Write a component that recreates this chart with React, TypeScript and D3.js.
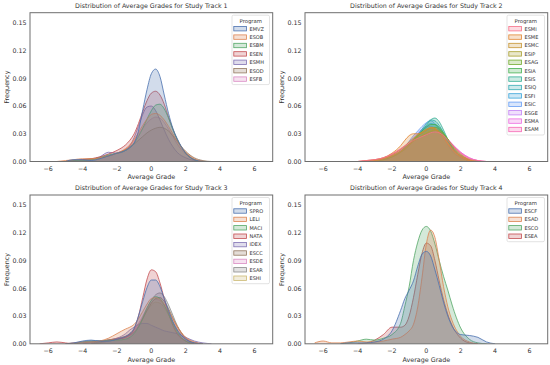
import React from 'react';
import * as d3 from 'd3';

// grade grid the densities were read on
const grades = [-6.5, -6, -5.5, -5, -4.5, -4, -3.5, -3, -2.5, -2, -1.5, -1.25, -1, -0.75, -0.5, -0.25, 0, 0.25, 0.5, 0.75, 1, 1.25, 1.5, 2, 2.5, 3, 3.5, 4, 4.5];
const _ = null;

const track1Programs = ['EMVZ', 'ESOB', 'ESBM', 'ESEN', 'ESMH', 'ESOD', 'ESFB'];
const track1Density = [
  [_, _, _, 0.000, 0.002, 0.002, 0.001, 0.003, 0.006, 0.009, 0.012, 0.015, 0.020, 0.033, 0.056, 0.078, 0.095, 0.100, 0.092, 0.072, 0.052, 0.036, 0.025, 0.009, 0.002, 0.000, _, _, _],
  [_, _, 0.000, 0.001, 0.002, 0.003, 0.003, 0.004, 0.006, 0.009, 0.014, 0.018, 0.024, 0.031, 0.039, 0.046, 0.051, 0.052, 0.050, 0.045, 0.038, 0.030, 0.022, 0.010, 0.003, 0.000, _, _, _],
  [_, _, _, 0.000, 0.001, 0.001, 0.002, 0.004, 0.007, 0.009, 0.012, 0.015, 0.020, 0.027, 0.036, 0.046, 0.055, 0.061, 0.062, 0.057, 0.047, 0.035, 0.024, 0.009, 0.002, 0.000, _, _, _],
  [_, _, _, 0.000, 0.001, 0.002, 0.003, 0.005, 0.008, 0.012, 0.018, 0.023, 0.030, 0.041, 0.054, 0.066, 0.074, 0.076, 0.072, 0.062, 0.048, 0.035, 0.024, 0.009, 0.002, 0.000, _, _, _],
  [_, _, _, 0.000, 0.001, 0.001, 0.002, 0.005, 0.010, 0.009, 0.012, 0.017, 0.026, 0.038, 0.051, 0.059, 0.060, 0.055, 0.045, 0.034, 0.024, 0.016, 0.010, 0.004, 0.001, 0.000, _, _, _],
  [_, _, _, 0.000, 0.001, 0.002, 0.003, 0.004, 0.006, 0.009, 0.013, 0.016, 0.019, 0.023, 0.027, 0.031, 0.034, 0.036, 0.037, 0.036, 0.033, 0.028, 0.022, 0.011, 0.004, 0.001, 0.000, _, _],
  [_, _, _, _, 0.000, 0.001, 0.002, 0.004, 0.006, 0.009, 0.013, 0.017, 0.022, 0.029, 0.036, 0.042, 0.046, 0.048, 0.047, 0.042, 0.035, 0.027, 0.019, 0.008, 0.002, 0.000, _, _, _],
];

const track2Programs = ['ESMI', 'ESME', 'ESMC', 'ESIP', 'ESAG', 'ESIA', 'ESIS', 'ESIQ', 'ESFI', 'ESIC', 'ESGE', 'ESMA', 'ESAM'];
const track2Density = [
  [_, _, _, _, _, 0.000, 0.001, 0.002, 0.004, 0.008, 0.014, 0.017, 0.020, 0.023, 0.025, 0.027, 0.029, 0.031, 0.032, 0.031, 0.028, 0.023, 0.018, 0.009, 0.003, 0.001, 0.000, _, _],
  [_, _, _, _, _, 0.000, 0.001, 0.002, 0.004, 0.009, 0.017, 0.023, 0.028, 0.030, 0.030, 0.031, 0.034, 0.037, 0.036, 0.032, 0.026, 0.019, 0.013, 0.005, 0.001, 0.000, _, _, _],
  [_, _, _, _, _, _, 0.000, 0.001, 0.003, 0.007, 0.013, 0.017, 0.021, 0.025, 0.029, 0.032, 0.035, 0.036, 0.035, 0.031, 0.026, 0.020, 0.014, 0.006, 0.002, 0.000, _, _, _],
  [_, _, _, _, _, _, 0.000, 0.001, 0.003, 0.006, 0.011, 0.014, 0.018, 0.022, 0.025, 0.028, 0.031, 0.033, 0.034, 0.033, 0.029, 0.024, 0.018, 0.008, 0.002, 0.000, _, _, _],
  [_, _, _, _, _, _, 0.000, 0.001, 0.003, 0.006, 0.011, 0.015, 0.019, 0.024, 0.028, 0.031, 0.034, 0.036, 0.037, 0.035, 0.030, 0.024, 0.017, 0.007, 0.002, 0.000, _, _, _],
  [_, _, _, _, _, _, 0.000, 0.001, 0.002, 0.005, 0.010, 0.014, 0.018, 0.023, 0.028, 0.033, 0.037, 0.040, 0.040, 0.037, 0.031, 0.024, 0.016, 0.006, 0.001, 0.000, _, _, _],
  [_, _, _, _, _, _, 0.000, 0.001, 0.002, 0.005, 0.010, 0.013, 0.017, 0.022, 0.027, 0.033, 0.039, 0.045, 0.047, 0.043, 0.034, 0.024, 0.015, 0.005, 0.001, 0.000, _, _, _],
  [_, _, _, _, _, _, 0.000, 0.001, 0.002, 0.005, 0.010, 0.014, 0.018, 0.023, 0.029, 0.035, 0.041, 0.045, 0.044, 0.039, 0.031, 0.022, 0.014, 0.005, 0.001, 0.000, _, _, _],
  [_, _, _, _, _, _, 0.000, 0.001, 0.003, 0.006, 0.011, 0.015, 0.019, 0.024, 0.029, 0.034, 0.038, 0.041, 0.040, 0.036, 0.029, 0.022, 0.015, 0.005, 0.001, 0.000, _, _, _],
  [_, _, _, _, _, _, 0.000, 0.001, 0.002, 0.005, 0.011, 0.016, 0.022, 0.028, 0.033, 0.038, 0.042, 0.044, 0.041, 0.034, 0.026, 0.018, 0.011, 0.004, 0.001, 0.000, _, _, _],
  [_, _, _, _, _, _, 0.000, 0.001, 0.003, 0.007, 0.012, 0.016, 0.021, 0.026, 0.031, 0.035, 0.038, 0.038, 0.036, 0.031, 0.025, 0.019, 0.013, 0.006, 0.002, 0.000, _, _, _],
  [_, _, _, _, _, _, 0.000, 0.001, 0.003, 0.006, 0.011, 0.015, 0.019, 0.023, 0.027, 0.030, 0.033, 0.035, 0.035, 0.033, 0.029, 0.024, 0.019, 0.010, 0.004, 0.001, 0.000, _, _],
  [_, _, _, _, _, 0.000, 0.001, 0.002, 0.004, 0.008, 0.013, 0.016, 0.019, 0.022, 0.025, 0.028, 0.030, 0.032, 0.033, 0.032, 0.029, 0.024, 0.019, 0.010, 0.004, 0.001, 0.000, _, _],
];

const track3Programs = ['SPRO', 'LELI', 'MACI', 'NATA', 'IDEX', 'ESCC', 'ESDE', 'ESAR', 'ESHI'];
const track3Density = [
  [_, _, _, 0.000, 0.001, 0.003, 0.004, 0.003, 0.003, 0.005, 0.008, 0.011, 0.017, 0.030, 0.046, 0.061, 0.069, 0.069, 0.062, 0.049, 0.036, 0.024, 0.015, 0.005, 0.001, 0.000, _, _, _],
  [_, _, _, 0.000, 0.001, 0.002, 0.002, 0.003, 0.006, 0.011, 0.016, 0.018, 0.021, 0.027, 0.035, 0.043, 0.049, 0.050, 0.048, 0.043, 0.036, 0.027, 0.019, 0.007, 0.002, 0.000, _, _, _],
  [_, _, _, _, 0.000, 0.002, 0.003, 0.003, 0.004, 0.004, 0.005, 0.007, 0.011, 0.018, 0.028, 0.039, 0.047, 0.051, 0.049, 0.042, 0.032, 0.022, 0.013, 0.003, 0.000, _, _, _, _],
  [0.000, 0.001, 0.002, 0.001, 0.000, 0.001, 0.002, 0.003, 0.004, 0.005, 0.007, 0.010, 0.016, 0.030, 0.050, 0.070, 0.080, 0.078, 0.066, 0.049, 0.033, 0.020, 0.011, 0.003, 0.000, _, _, _, _],
  [_, _, _, 0.000, 0.001, 0.002, 0.003, 0.003, 0.004, 0.006, 0.011, 0.015, 0.018, 0.021, 0.022, 0.022, 0.020, 0.018, 0.016, 0.014, 0.013, 0.012, 0.011, 0.007, 0.003, 0.001, 0.000, _, _],
  [_, _, _, _, _, 0.000, 0.001, 0.002, 0.004, 0.006, 0.008, 0.010, 0.013, 0.019, 0.027, 0.036, 0.044, 0.049, 0.050, 0.046, 0.038, 0.028, 0.019, 0.006, 0.001, 0.000, _, _, _],
  [_, _, _, _, _, _, 0.000, 0.002, 0.004, 0.006, 0.008, 0.011, 0.015, 0.022, 0.030, 0.039, 0.045, 0.048, 0.047, 0.041, 0.033, 0.024, 0.016, 0.005, 0.001, 0.000, _, _, _],
  [_, _, _, _, _, _, 0.000, 0.001, 0.003, 0.005, 0.007, 0.009, 0.012, 0.018, 0.027, 0.038, 0.047, 0.053, 0.055, 0.051, 0.042, 0.031, 0.020, 0.006, 0.001, 0.000, _, _, _],
  [_, _, _, _, _, _, 0.000, 0.001, 0.003, 0.005, 0.008, 0.011, 0.015, 0.021, 0.028, 0.036, 0.042, 0.045, 0.044, 0.039, 0.031, 0.023, 0.015, 0.005, 0.001, 0.000, _, _, _],
];

const track4Programs = ['ESCF', 'ESAD', 'ESCO', 'ESEA'];
const track4Density = [
  [_, _, _, 0.000, 0.001, 0.001, 0.001, 0.002, 0.005, 0.014, 0.036, 0.049, 0.058, 0.068, 0.084, 0.097, 0.100, 0.095, 0.080, 0.063, 0.045, 0.030, 0.019, 0.010, 0.009, 0.007, 0.002, 0.000, _],
  [0.001, 0.003, 0.001, 0.001, 0.002, 0.003, 0.002, 0.002, 0.003, 0.005, 0.007, 0.010, 0.014, 0.021, 0.040, 0.072, 0.108, 0.123, 0.115, 0.090, 0.062, 0.040, 0.025, 0.008, 0.002, 0.000, _, _, _],
  [_, _, _, 0.000, 0.001, 0.003, 0.005, 0.004, 0.006, 0.010, 0.022, 0.041, 0.062, 0.090, 0.110, 0.123, 0.127, 0.122, 0.108, 0.090, 0.073, 0.058, 0.042, 0.017, 0.005, 0.001, 0.000, _, _],
  [_, _, _, _, _, 0.000, 0.001, 0.004, 0.010, 0.018, 0.018, 0.020, 0.030, 0.050, 0.075, 0.098, 0.109, 0.106, 0.090, 0.068, 0.048, 0.032, 0.020, 0.006, 0.001, 0.000, _, _, _],
];

const yTickValues = [0, 0.03, 0.06, 0.09, 0.12, 0.15];

const deep = ['#4c72b0', '#dd8452', '#55a868', '#c44e52', '#8172b3', '#937860', '#da8bc3', '#8c8c8c', '#ccb974', '#64b5cd'];
const husl13 = ['#f77189', '#e18632', '#c69432', '#a89f31', '#73ac31', '#45b051', '#34ae93', '#37abb4', '#3aa5da', '#669df4', '#c280f4', '#ec6be0', '#f668b6'];

const panels = [
  { title: 'Distribution of Average Grades for Study Track 1', programs: track1Programs, density: track1Density, colors: deep, left: 30, top: 12.7 },
  { title: 'Distribution of Average Grades for Study Track 2', programs: track2Programs, density: track2Density, colors: husl13, left: 305, top: 12.7 },
  { title: 'Distribution of Average Grades for Study Track 3', programs: track3Programs, density: track3Density, colors: deep, left: 30, top: 195 },
  { title: 'Distribution of Average Grades for Study Track 4', programs: track4Programs, density: track4Density, colors: deep, left: 305, top: 195 },
];

const PW = 242.7;
const PH = 148.8;
const FONT = 'DejaVu Sans, sans-serif';
const TXT = '#333333';

function Panel({ p }: { p: typeof panels[number] }) {
  const x = d3.scaleLinear().domain([-7.06, 7.06]).range([p.left, p.left + PW]);
  const y = d3.scaleLinear().domain([0, 0.161]).range([p.top + PH, p.top]);
  const area = d3.area<number | null>()
    .defined(d => d != null)
    .x((_d, i) => x(grades[i]))
    .y0(y(0))
    .y1(d => y(d as number))
    .curve(d3.curveMonotoneX);
  const line = d3.line<number | null>()
    .defined(d => d != null)
    .x((_d, i) => x(grades[i]))
    .y(d => y(d as number))
    .curve(d3.curveMonotoneX);

  const order = p.programs.map((_n, i) => i).reverse();
  const legW = 37.5;
  const legX = p.left + PW - 3.2 - legW;
  const legY = p.top + 2.5;
  const step = 8.4;
  const legH = 13.5 + (p.programs.length - 1) * step + 5.5;
  const cx = p.left + PW / 2;

  return (
    <g>
      <defs>
        <clipPath id={`clip-${p.left}-${p.top}`}>
          <rect x={p.left} y={p.top} width={PW} height={PH} />
        </clipPath>
      </defs>
      <g clipPath={`url(#clip-${p.left}-${p.top})`}>
        {order.map(i => (
          <g key={p.programs[i]}>
            <path d={area(p.density[i]) || ''} fill={p.colors[i]} fillOpacity={0.25} stroke="none" />
            <path d={line(p.density[i]) || ''} fill="none" stroke={p.colors[i]} strokeWidth={0.9} strokeOpacity={0.9} />
          </g>
        ))}
      </g>
      <rect x={p.left} y={p.top} width={PW} height={PH} fill="none" stroke="#6e6e6e" strokeWidth={1} />
      {x.ticks(7).map(t => (
        <text key={t} x={x(t)} y={p.top + PH + 9.5} textAnchor="middle" fontSize={6.3} fill={TXT} fontFamily={FONT}>
          {d3.format('')(t).replace('-', '\u2212')}
        </text>
      ))}
      {yTickValues.map(t => (
        <text key={t} x={p.left - 3.5} y={y(t) + 2.2} textAnchor="end" fontSize={6.3} fill={TXT} fontFamily={FONT}>
          {d3.format('.2f')(t)}
        </text>
      ))}
      <text x={cx} y={p.top - 4.6} textAnchor="middle" fontSize={6.3} fill={TXT} fontFamily={FONT}>{p.title}</text>
      <text x={cx} y={p.top + PH + 17.8} textAnchor="middle" fontSize={6.4} fill={TXT} fontFamily={FONT}>Average Grade</text>
      <text transform={`translate(${p.left - 21.5},${p.top + PH / 2}) rotate(-90)`} textAnchor="middle" fontSize={6.4} fill={TXT} fontFamily={FONT}>Frequency</text>
      <rect x={legX} y={legY} width={legW} height={legH} rx={1.5} fill="white" fillOpacity={0.8} stroke="#d0d0d0" strokeWidth={0.6} />
      <text x={legX + legW / 2} y={legY + 7.8} textAnchor="middle" fontSize={5.3} fill={TXT} fontFamily={FONT}>Program</text>
      {p.programs.map((name, i) => {
        const cy = legY + 13.5 + i * step;
        return (
          <g key={name}>
            <rect x={legX + 1.8} y={cy - 2.2} width={12.6} height={4.4} fill={p.colors[i]} fillOpacity={0.25} stroke={p.colors[i]} strokeWidth={0.8} />
            <text x={legX + 17.5} y={cy + 1.8} fontSize={5} fill={TXT} fontFamily={FONT}>{name}</text>
          </g>
        );
      })}
    </g>
  );
}

export default function App() {
  return (
    <svg width={550} height={365} style={{ position: 'absolute', left: 0, top: 0, background: 'white' }}>
      {panels.map(p => <Panel key={p.title} p={p} />)}
    </svg>
  );
}
